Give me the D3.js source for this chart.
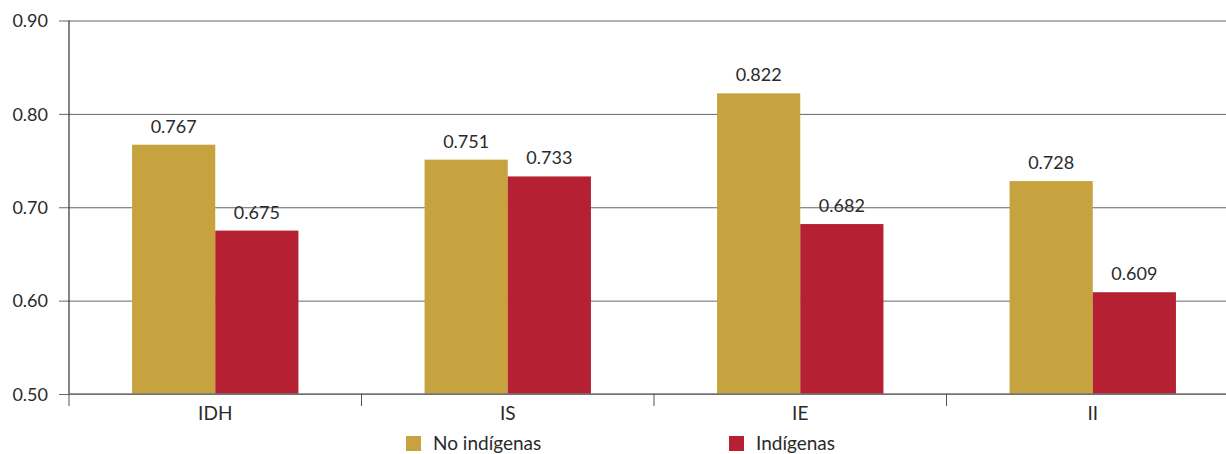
<!DOCTYPE html>
<html>
<head>
<meta charset="utf-8">
<script src="https://cdn.jsdelivr.net/npm/d3@7"></script>
<style>
  html, body { margin: 0; padding: 0; background: #fff; }
  svg { display: block; }
</style>
</head>
<body>
<svg id="chart" width="1226" height="454"></svg>
<script>
// Índices por componente
const categories = ["IDH", "IS", "IE", "II"];
const seriesNames = ["No indígenas", "Indígenas"];
const noIndigenas = [0.767, 0.751, 0.822, 0.728];
const indigenas = [0.675, 0.733, 0.682, 0.609];
const yTicks = [0.50, 0.60, 0.70, 0.80, 0.90];
const colors = ["#C6A33E", "#B52033"];

const FONT = "Lato, 'Open Sans', sans-serif";
const TEXT = "#2a2a2a";

const svg = d3.select("#chart");
const plotLeft = 69, plotRight = 1239, plotTop = 20.5, plotBottom = 394;

const x = d3.scaleBand().domain(categories).range([plotLeft, plotRight]).paddingInner(0).paddingOuter(0);
const inner = d3.scaleBand().domain(seriesNames).range([0, x.bandwidth()]).paddingOuter(0.758).paddingInner(0);
const y = d3.scaleLinear().domain([0.5, 0.9]).range([plotBottom, plotTop]);

// Horizontal gridlines with left tick marks
const yAxis = d3.axisLeft(y).tickValues(yTicks).tickFormat(d3.format(".2f"))
  .tickSize(-(1226 - plotLeft)).tickPadding(11);
const gy = svg.append("g").attr("transform", `translate(${plotLeft},0)`).call(yAxis)
  .attr("font-family", FONT).attr("font-size", 18);
gy.select(".domain").remove();
gy.selectAll(".tick line").attr("x1", -10).attr("stroke", "#666").attr("stroke-width", 1);
gy.selectAll(".tick text").attr("fill", TEXT).attr("x", -21).attr("dy", "0.35em");

// Bars
const data = categories.map((c, i) => ({ cat: c, vals: [noIndigenas[i], indigenas[i]] }));
const groups = svg.append("g").selectAll("g").data(data).join("g")
  .attr("transform", d => `translate(${x(d.cat)},0)`);

groups.selectAll("rect").data(d => d.vals.map((v, j) => ({ name: seriesNames[j], v, j })))
  .join("rect")
  .attr("x", d => inner(d.name))
  .attr("y", d => y(d.v))
  .attr("width", inner.bandwidth())
  .attr("height", d => y(0.5) - y(d.v))
  .attr("fill", d => colors[d.j]);

groups.selectAll("text").data(d => d.vals.map((v, j) => ({ name: seriesNames[j], v, j })))
  .join("text")
  .attr("x", d => inner(d.name) + inner.bandwidth() / 2)
  .attr("y", d => y(d.v) - 12)
  .attr("text-anchor", "middle")
  .attr("font-family", FONT)
  .attr("font-size", 18)
  .attr("fill", TEXT)
  .text(d => d3.format(".3f")(d.v));

// Vertical axis line
svg.append("line").attr("x1", plotLeft).attr("x2", plotLeft).attr("y1", plotTop).attr("y2", plotBottom)
  .attr("stroke", "#333").attr("stroke-width", 1.2);

// Bottom axis with category separators
const xAxis = d3.axisBottom(x).tickSize(0);
const gx = svg.append("g").attr("transform", `translate(0,${plotBottom})`).call(xAxis)
  .attr("font-family", FONT).attr("font-size", 19);
gx.select(".domain").attr("stroke", "#777").attr("stroke-width", 1.5).attr("d", `M${plotLeft},0H1226`);
gx.selectAll(".tick text").attr("fill", TEXT).attr("y", 26).attr("dy", 0);
gx.selectAll(".sep").data(categories.map(c => x(c))).join("line").attr("class", "sep")
  .attr("x1", d => d).attr("x2", d => d).attr("y1", 0).attr("y2", 12)
  .attr("stroke", "#555").attr("stroke-width", 1);

// Legend
const legendX = [406, 729];
const lg = svg.append("g").selectAll("g").data(seriesNames).join("g")
  .attr("transform", (d, i) => `translate(${legendX[i]},436)`);
lg.append("rect").attr("width", 15).attr("height", 15).attr("fill", (d, i) => colors[i]);
lg.append("text").attr("x", 27).attr("y", 14).attr("font-family", FONT).attr("font-size", 19)
  .attr("fill", TEXT).text(d => d);
</script>
</body>
</html>
